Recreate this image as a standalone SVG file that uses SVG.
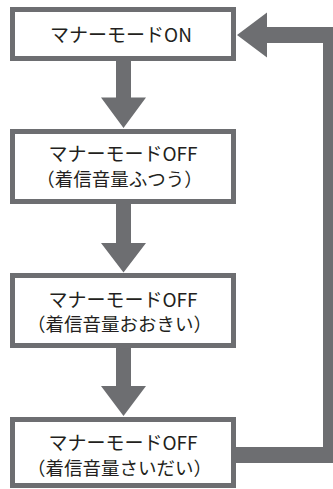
<svg xmlns="http://www.w3.org/2000/svg" width="333" height="489" viewBox="0 0 333 489">
<style>
.box{fill:#ffffff;stroke:#6d6e71;stroke-width:5}
.arr{fill:#6d6e71}
text{font-family:"Noto Sans CJK JP","Noto Sans",sans-serif;font-size:19px;fill:#231f20;text-anchor:middle}
.l2{font-size:18.5px}
</style>
<rect width="333" height="489" fill="#ffffff"/>
<g id="connectors">
<polygon class="arr" points="116,61 131,61 131,97.5 146,97.5 123.5,128 101,97.5 116,97.5"/>
<polygon class="arr" points="116,204 131,204 131,243 146,243 123.5,272.5 101,243 116,243"/>
<polygon class="arr" points="116,348 131,348 131,386 146,386 123.5,416 101,386 116,386"/>
<polygon class="arr" points="236,447 323,447 323,43 267,43 267,57.5 237,35 267,12.5 267,27 339,27 339,463 236,463"/>
</g>
<g id="node1">
<rect class="box" x="12.5" y="9.5" width="221" height="49"/>
<text x="121" y="41.5">マナーモードON</text>
</g>
<g id="node2">
<rect class="box" x="12.5" y="131.5" width="221" height="70"/>
<text x="123" y="160.5">マナーモードOFF</text>
<text class="l2" x="119.5" y="186">（着信音量ふつう）</text>
</g>
<g id="node3">
<rect class="box" x="12.5" y="275.5" width="221" height="70"/>
<text x="123" y="307">マナーモードOFF</text>
<text class="l2" x="119.5" y="330.5">（着信音量おおきい）</text>
</g>
<g id="node4">
<rect class="box" x="12.5" y="419.5" width="221" height="66"/>
<text x="123" y="449.5">マナーモードOFF</text>
<text class="l2" x="119.5" y="474.5">（着信音量さいだい）</text>
</g>
</svg>
